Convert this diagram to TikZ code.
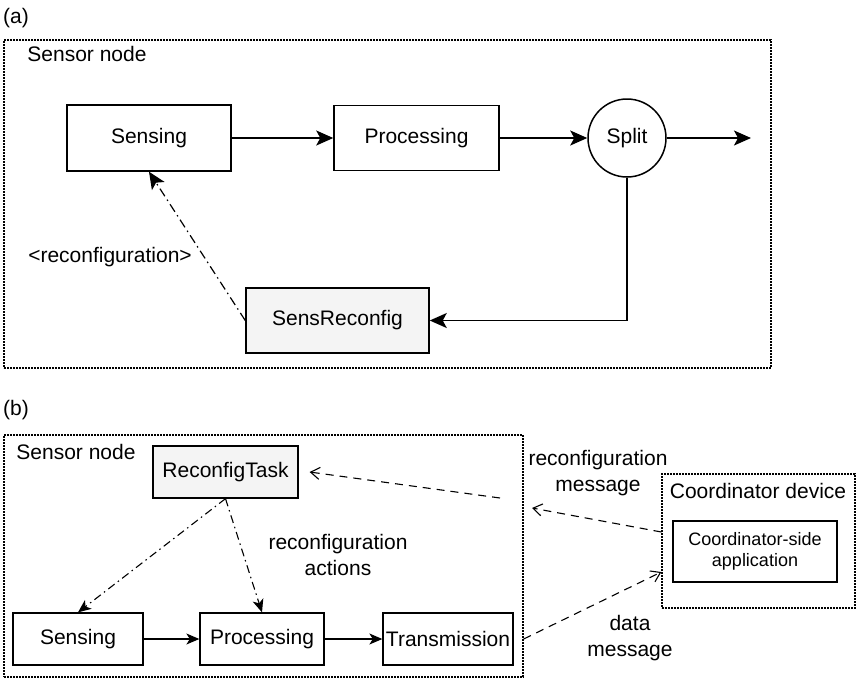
\documentclass[tikz,border=0pt]{standalone}
\usepackage{fontspec}
\setmainfont{Liberation Sans}
\usetikzlibrary{arrows.meta, calc}

\begin{document}
\begin{tikzpicture}[x=1pt, y=-1pt,
  every node/.style={font=\fontsize{21}{26}\selectfont},
  block/.style={draw, line width=1.5pt, inner sep=0pt, align=center},
  greyblock/.style={block, fill=gray!9},
  group/.style={draw, line width=1.3pt, dash pattern=on 1.6pt off 1.4pt, inner sep=0pt},
  flow/.style={line width=1.5pt, -{Stealth[length=17pt, width=15pt, inset=4pt]}},
  flowb/.style={line width=1.3pt, -{Stealth[length=13pt, width=11pt, inset=3.5pt]}},
  ctrl/.style={line width=1.2pt, dash pattern=on 9pt off 4pt on 1.5pt off 4pt, -{Stealth[length=17pt, width=15pt, inset=4pt]}},
  ctrlb/.style={line width=1.1pt, dash pattern=on 8pt off 4pt on 1.5pt off 4pt, -{Stealth[length=13pt, width=11pt, inset=3.5pt]}},
  msg/.style={line width=1.1pt, dash pattern=on 8pt off 6pt, -{Straight Barb[length=9pt, width=12pt]}}]
\useasboundingbox (0,0) rectangle (856,678);

% (a)
\node (labela) at (16,18) {(a)};
\node[group, minimum width=767pt, minimum height=328pt] (nodea) at (387.5,204) {};
\node (titlea) at (87,54) {Sensor node};
\node[block, minimum width=164pt, minimum height=66pt] (sensa) at (149,138) {Sensing};
\node[block, minimum width=165pt, minimum height=65pt] (proca) at (416.5,138) {Processing};
\node[block, circle, minimum size=78pt] (split) at (627,138) {Split};
\node[greyblock, minimum width=183pt, minimum height=65pt] (recona) at (337.5,320.5) {SensReconfig};
\coordinate (outa) at (751,138);
\node (lblrec) at (110,257) {<reconfiguration>};

\draw[flow] (sensa) -- (proca);
\draw[flow] (proca) -- (split);
\draw[flow] (split) -- (outa);
\draw[flow] (split.south) |- (recona.east);
\draw[ctrl] (recona.west) -- (sensa.south);

% (b)
\node (labelb) at (16,410) {(b)};
\node[group, minimum width=519pt, minimum height=242pt] (nodeb) at (263.5,556) {};
\node (titleb) at (76,452) {Sensor node};
\node[greyblock, line width=1.3pt, minimum width=145pt, minimum height=52pt] (reconb) at (225.5,472) {ReconfigTask};
\node[block, line width=1.3pt, minimum width=130pt, minimum height=52pt] (sensb) at (78,639) {Sensing};
\node[block, line width=1.3pt, minimum width=124pt, minimum height=52pt] (procb) at (262,639) {Processing};
\node[block, line width=1.3pt, minimum width=130pt, minimum height=52pt] (trans) at (448,639) {Transmission};
\node[align=center] (lblact) at (338,555) {reconfiguration\\actions};
\node[group, minimum width=193pt, minimum height=134pt] (coordb) at (758.5,541) {};
\node (titlec) at (758,491) {Coordinator device};
\node[block, line width=1.3pt, minimum width=164pt, minimum height=61pt, font=\fontsize{18}{21}\selectfont] (app) at (755,551.5) {Coordinator-side\\application};
\node[align=center] (lblmsg) at (598,473) {reconfiguration\\message};
\node[align=center] (lbldata) at (630,638) {data\\message};
\coordinate (rxin) at (532,508);
\coordinate (rxrelay) at (500,498);

\draw[flowb] (sensb) -- (procb);
\draw[flowb] (procb) -- (trans);
\draw[ctrlb] (reconb.south) -- (sensb.north);
\draw[ctrlb] (reconb.south) -- (procb.north);
\draw[msg] ($(coordb.west)+(0,-9)$) -- (rxin);
\draw[msg] (rxrelay) -- ([xshift=11pt]reconb.east);
\draw[msg] (trans.east -| nodeb.east) -- ($(coordb.west)+(0,31)$);
\end{tikzpicture}
\end{document}
